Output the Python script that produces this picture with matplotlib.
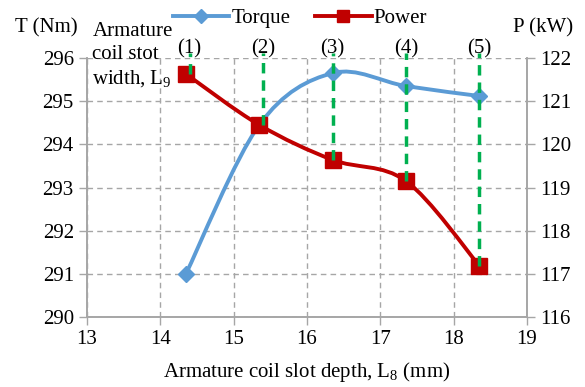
import matplotlib
matplotlib.use("Agg")
import matplotlib.pyplot as plt
from matplotlib.path import Path
from matplotlib.patches import PathPatch
from matplotlib.lines import Line2D

SERIF = "Liberation Serif"
plt.rcParams["font.family"] = "serif"
plt.rcParams["font.serif"] = [SERIF]
plt.rcParams["mathtext.fontset"] = "custom"
plt.rcParams["mathtext.rm"] = SERIF
plt.rcParams["mathtext.it"] = SERIF + ":italic"

slot_depth = [14.35, 15.35, 16.35, 17.35, 18.35]
torque = [291.0, 294.45, 295.65, 295.35, 295.12]
power = [121.63, 120.45, 119.64, 119.15, 117.19]
case_x = [14.4, 15.4, 16.35, 17.35, 18.35]
case_labels = ["(1)", "(2)", "(3)", "(4)", "(5)"]
x_ticks = [13, 14, 15, 16, 17, 18, 19]
t_ticks = [290, 291, 292, 293, 294, 295, 296]
p_ticks = [116, 117, 118, 119, 120, 121, 122]

BLUE = "#5B9BD5"
RED = "#C00000"
GREEN = "#00B050"
GRID = "#A6A6A6"
FS = 15


def smooth_path(xs, ys):
    # Excel-style smoothed line: cubic bezier through the points
    verts = [(xs[0], ys[0])]
    codes = [Path.MOVETO]
    n = len(xs)
    for i in range(n - 1):
        x0, y0 = (xs[i - 1], ys[i - 1]) if i > 0 else (xs[i], ys[i])
        x1, y1 = xs[i], ys[i]
        x2, y2 = xs[i + 1], ys[i + 1]
        x3, y3 = (xs[i + 2], ys[i + 2]) if i + 2 < n else (x2, y2)
        c1 = (x1 + (x2 - x0) / 6, y1 + (y2 - y0) / 6)
        c2 = (x2 - (x3 - x1) / 6, y2 - (y3 - y1) / 6)
        verts += [c1, c2, (x2, y2)]
        codes += [Path.CURVE4] * 3
    return Path(verts, codes)


fig = plt.figure(figsize=(5.85, 3.87), dpi=100)
ax = fig.add_axes([0.1487, 0.1809, 0.752, 0.6692])
ax2 = ax.twinx()

ax.set_xlim(13, 19)
ax.set_ylim(290, 296)
ax2.set_ylim(116, 122)
ax.set_xticks(x_ticks)
ax.set_yticks(t_ticks)
ax2.set_yticks(p_ticks)

ax.grid(True, color=GRID, linestyle=(0, (4, 3)), linewidth=1)
ax.set_axisbelow(True)
for a in (ax, ax2):
    a.spines["top"].set_visible(False)
    for s in ("left", "right", "bottom"):
        a.spines[s].set_color(GRID)
        a.spines[s].set_linewidth(1.2)
    a.tick_params(labelsize=FS, color=GRID, length=6, width=1)
    for lbl in a.get_xticklabels() + a.get_yticklabels():
        lbl.set_fontfamily(SERIF)

ax.add_patch(PathPatch(smooth_path(slot_depth, torque), fill=False,
                       edgecolor=BLUE, linewidth=2.8, zorder=3))
ax.plot(slot_depth, torque, linestyle="none", marker="D", markersize=8,
        color=BLUE, zorder=4, clip_on=False)

ax2.add_patch(PathPatch(smooth_path(slot_depth, power), fill=False,
                        edgecolor=RED, linewidth=2.8, zorder=3))
ax2.plot(slot_depth, power, linestyle="none", marker="s", markersize=11,
         color=RED, zorder=4, clip_on=False)

for cx, p, lab in zip(case_x, power, case_labels):
    ax2.plot([cx, cx], [p, 122.12], color=GREEN, linestyle=(0, (3, 2)),
             linewidth=2.5, zorder=5, clip_on=False)
    ax2.text(cx, 122.21, lab, ha="center", va="center", fontsize=FS, family=SERIF)

ax.set_xlabel("Armature coil slot depth, L$_8$ (mm)", fontsize=FS, labelpad=8,
              family=SERIF)
fig.text(0.026, 0.928, "T (Nm)", fontsize=FS, va="center", family=SERIF)
fig.text(0.877, 0.928, "P (kW)", fontsize=FS, va="center", family=SERIF)
fig.text(0.158, 0.944, "Armature\ncoil stot\nwidth, L$_9$", fontsize=FS,
         va="top", linespacing=1.3, family=SERIF)

handles = [
    Line2D([], [], color=BLUE, linewidth=2.8, marker="D", markersize=7),
    Line2D([], [], color=RED, linewidth=2.8, marker="s", markersize=9),
]
fig.legend(handles, ["Torque", "Power"], loc="center", ncol=2,
           bbox_to_anchor=(0.513, 0.953), frameon=False,
           prop={"family": SERIF, "size": FS},
           handlelength=2.7, columnspacing=1.2, handletextpad=0.1)

fig.savefig("out.png", dpi=100)
